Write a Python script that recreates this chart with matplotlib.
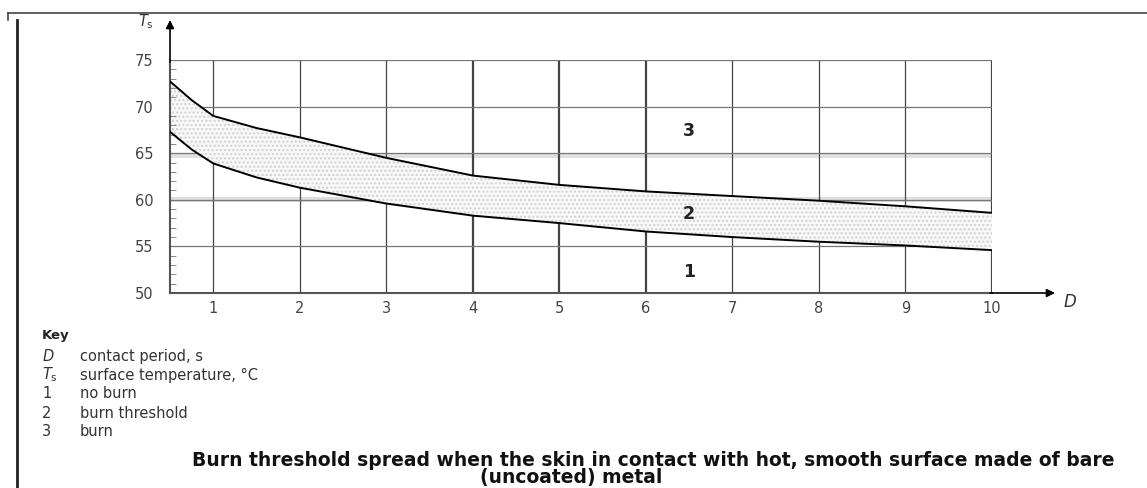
import numpy as np
import matplotlib.pyplot as plt
from matplotlib.lines import Line2D

# Values
d = [0.5, 0.75, 1, 1.5, 2, 3, 4, 5, 6, 7, 8, 9, 10]
upper = [72.7, 70.7, 69.0, 67.7, 66.7, 64.5, 62.6, 61.6, 60.9, 60.4, 59.9, 59.3, 58.6]
lower = [67.3, 65.4, 63.9, 62.4, 61.3, 59.6, 58.3, 57.5, 56.6, 56.0, 55.5, 55.1, 54.6]
x_ticks = list(range(1, 11))
y_ticks = [50, 55, 60, 65, 70, 75]
regions = [("3", 6.5, 67.4), ("2", 6.5, 58.5), ("1", 6.5, 52.2)]
key_rows = [("$D$", "contact period, s"),
            ("$T_\\mathrm{s}$", "surface temperature, °C"),
            ("1", "no burn"),
            ("2", "burn threshold"),
            ("3", "burn")]
caption = ["Burn threshold spread when the skin in contact with hot, smooth surface made of bare",
           "(uncoated) metal"]

plt.rcParams['font.family'] = ['DejaVu Sans']

W, H = 1147, 488
fig = plt.figure(figsize=(W / 100, H / 100), dpi=100)
ax = fig.add_axes([170 / W, 1 - 293 / H, (992 - 170) / W, (293 - 60) / H])

ax.set_xlim(0.5, 10)
ax.set_ylim(50, 75)

# grid
for x in x_ticks:
    lw = 1.6 if x in (4, 5, 6, 10) else 0.9
    ax.axvline(x, color='#444444', lw=lw, zorder=1)
for y in y_ticks[1:]:
    ax.axhline(y, color='#777777', lw=0.9, zorder=1)
ax.axhspan(64.5, 64.9, color='#e0e0e0', lw=0, zorder=0.5)
ax.axhspan(59.8, 60.25, color='#dddddd', lw=0, zorder=0.5)

# band and curves
ax.fill_between(d, lower, upper, facecolor='#f8f8f8', edgecolor='#d0d0d0',
                hatch='....', lw=0, zorder=1.5)
ax.plot(d, upper, color='black', lw=1.4, zorder=3)
ax.plot(d, lower, color='black', lw=1.4, zorder=3)

for s, x, y in regions:
    ax.text(x, y, s, ha='center', va='center', fontsize=12.5, fontweight='bold',
            color='#222222', zorder=4)

for sp in ['top', 'right']:
    ax.spines[sp].set_visible(False)
ax.spines['left'].set_color('#555555')
ax.spines['bottom'].set_color('#555555')
ax.spines['left'].set_linewidth(1.5)
ax.spines['bottom'].set_linewidth(1.5)

ax.set_xticks(x_ticks)
ax.set_yticks(y_ticks)
ax.set_yticks(np.arange(50, 75, 1), minor=True)
ax.tick_params(axis='x', length=0, pad=6, labelsize=10.5, labelcolor='#444444')
ax.tick_params(axis='y', which='major', length=0, pad=12, labelsize=10.5, labelcolor='#444444')
ax.tick_params(axis='y', which='minor', direction='in', length=4, color='#777777')

# axis arrows
ax.annotate('', xy=(1055, H - 293), xycoords='figure pixels',
            xytext=(990, H - 293), textcoords='figure pixels',
            arrowprops=dict(arrowstyle='-|>', color='black', lw=1.2,
                            mutation_scale=12, shrinkA=0, shrinkB=0))
ax.annotate('', xy=(170, H - 20), xycoords='figure pixels',
            xytext=(170, H - 62), textcoords='figure pixels',
            arrowprops=dict(arrowstyle='-|>', color='black', lw=1.2,
                            mutation_scale=12, shrinkA=0, shrinkB=0))
fig.text(1070 / W, 1 - 302 / H, '$D$', fontsize=12, ha='center', va='center', color='#333333')
fig.text(146 / W, 1 - 22 / H, '$T_\\mathrm{s}$', fontsize=10.5, ha='center', va='center', color='#333333')

# page frame
fig.add_artist(Line2D([8 / W, 1], [1 - 13 / H, 1 - 13 / H], color='#444444', lw=1.2))
fig.add_artist(Line2D([8 / W, 8 / W], [1 - 13 / H, 1 - 20 / H], color='#444444', lw=1.2))
fig.add_artist(Line2D([17 / W, 17 / W], [1 - 20 / H, 0], color='#222222', lw=2))

# key
fig.text(42 / W, 1 - 336 / H, 'Key', fontsize=9.5, fontweight='bold', va='center', color='#222222')
for i, (sym, txt) in enumerate(key_rows):
    yy = 1 - (356 + i * 19) / H
    fig.text(42 / W, yy, sym, fontsize=10.5, va='center', color='#333333')
    fig.text(80 / W, yy, txt, fontsize=10.5, va='center', color='#333333')

fig.text(192 / W, 1 - 460 / H, caption[0], fontsize=13.5, fontweight='bold',
         va='center', color='#111111')
fig.text(480 / W, 1 - 478 / H, caption[1], fontsize=13.5, fontweight='bold',
         va='center', color='#111111')

fig.savefig('out.png', dpi=100)
